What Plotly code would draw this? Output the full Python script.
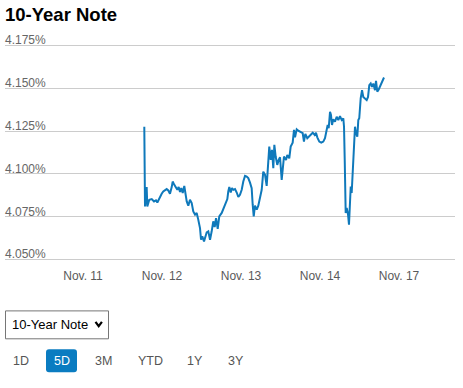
import plotly.graph_objects as go

# ---- data ----
day_labels = ["Nov. 11", "Nov. 12", "Nov. 13", "Nov. 14", "Nov. 17"]
day_pos = [0, 1, 2, 3, 4]

t = [0.776,0.785,0.806,0.814,0.839,0.870,0.899,0.924,0.941,0.966,0.996,1.016,1.038,1.059,1.080,1.101,
     1.123,1.135,1.156,1.177,1.194,1.211,1.228,1.244,1.262,1.282,1.295,1.313,1.333,1.354,1.376,1.396,
     1.418,1.439,1.459,1.481,1.494,1.510,1.532,1.548,1.566,1.586,1.608,1.629,1.649,1.667,1.684,1.705,
     1.725,1.756,1.785,1.810,1.827,1.839,1.852,1.870,1.886,1.903,1.924,1.946,1.966,1.987,2.009,2.029,
     2.051,2.072,2.092,2.114,2.135,2.148,2.161,2.177,2.199,2.219,2.241,2.262,2.282,2.304,2.325,2.346,
     2.358,2.376,2.392,2.409,2.422,2.439,2.459,2.477,2.494,2.515,2.544,2.570,2.586,2.611,2.629,2.654,
     2.671,2.684,2.705,2.725,2.756,2.781,2.797,2.814,2.839,2.865,2.890,2.908,2.933,2.949,2.966,2.991,
     3.016,3.042,3.063,3.085,3.097,3.110,3.127,3.139,3.152,3.168,3.190,3.211,3.232,3.253,3.275,3.295,
     3.304,3.313,3.316,3.325,3.338,3.354,3.367,3.380,3.389,3.401,3.414,3.430,3.443,3.456,3.472,3.485,
     3.497,3.515,3.532,3.548,3.570,3.591,3.608,3.624,3.642,3.658,3.675,3.696,3.709,3.725,3.743,3.759,
     3.781,3.810]

yields = [4.1275,4.0810,4.0923,4.0810,4.0849,4.0853,4.0839,4.0845,4.0833,4.0859,4.0884,4.0897,4.0903,
          4.0911,4.0903,4.0884,4.0923,4.0955,4.0936,4.0923,4.0907,4.0923,4.0895,4.0917,4.0888,4.0930,
          4.0888,4.0839,4.0814,4.0849,4.0830,4.0781,4.0762,4.0772,4.0733,4.0684,4.0616,4.0635,4.0606,
          4.0635,4.0659,4.0665,4.0616,4.0665,4.0723,4.0690,4.0742,4.0679,4.0752,4.0772,4.0801,4.0830,
          4.0853,4.0897,4.0923,4.0891,4.0917,4.0907,4.0911,4.0891,4.0865,4.0878,4.0907,4.0955,4.0988,
          4.0984,4.0975,4.0949,4.0917,4.0820,4.0752,4.0814,4.0791,4.0814,4.0859,4.0907,4.1013,4.0994,
          4.0930,4.1052,4.1159,4.1081,4.1140,4.1033,4.1169,4.1101,4.1052,4.1081,4.1097,4.0965,4.1101,
          4.1081,4.1110,4.1091,4.1159,4.1182,4.1256,4.1213,4.1260,4.1252,4.1246,4.1237,4.1188,4.1233,
          4.1208,4.1221,4.1227,4.1240,4.1227,4.1240,4.1213,4.1188,4.1182,4.1188,4.1208,4.1256,4.1285,
          4.1266,4.1362,4.1343,4.1285,4.1318,4.1304,4.1333,4.1314,4.1337,4.1314,4.1324,4.1275,4.1081,
          4.0849,4.0772,4.0801,4.0767,4.0703,4.0830,4.0926,4.0888,4.1042,4.1140,4.1275,4.1237,4.1217,
          4.1314,4.1324,4.1440,4.1488,4.1449,4.1440,4.1430,4.1449,4.1517,4.1527,4.1508,4.1527,4.1488,
          4.1542,4.1479,4.1492,4.1508,4.1527,4.1562]

y_ticks = [4.050, 4.075, 4.100, 4.125, 4.150, 4.175]
y_tick_labels = ["4.050%", "4.075%", "4.100%", "4.125%", "4.150%", "4.175%"]
range_buttons = ["1D", "5D", "3M", "YTD", "1Y", "3Y"]
selected_button = "5D"
dropdown_label = "10-Year Note"
title_text = "10-Year Note"

# ---- layout geometry (pixels) ----
W, H = 463, 388
Y_LO, Y_HI = 4.048, 4.195
PX_PER_UNIT = 1720.0
L, R = 5, 455
B = 260 + (4.05 - Y_LO) * PX_PER_UNIT
T = B - (Y_HI - Y_LO) * PX_PER_UNIT

def px(x):
    return (x - L) / (R - L)

def py(y):
    return (B - y) / (B - T)

FONT = "Liberation Sans, Arial, sans-serif"
BLUE = "#0a7cc1"

fig = go.Figure()
fig.add_trace(go.Scatter(x=t, y=yields, mode="lines",
                         line=dict(color="#0f79bb", width=2), hoverinfo="skip"))

shapes = []
annotations = []

# dropdown box
shapes.append(dict(type="rect", xref="paper", yref="paper",
                   x0=px(5.5), x1=px(108.5), y0=py(339.5), y1=py(311.5),
                   line=dict(color="#767676", width=1), fillcolor="white"))
annotations.append(dict(text=dropdown_label, xref="paper", yref="paper",
                        x=px(10), y=py(325.5), xanchor="left", yanchor="middle",
                        showarrow=False, font=dict(family=FONT, size=13, color="#000000")))
shapes.append(dict(type="path", xref="paper", yref="paper",
                   path=f"M {px(95.5)} {py(322.5)} L {px(98.7)} {py(326.8)} L {px(101.9)} {py(322.5)}",
                   line=dict(color="#000000", width=2.2)))

# range buttons
btn_centers = [21, 61.5, 103, 150, 195, 236]
for lab, cx in zip(range_buttons, btn_centers):
    sel = lab == selected_button
    if sel:
        x0, x1, y0, y1, r = 46, 77, 350, 373, 3
        path = (f"M {px(x0+r)} {py(y0)} L {px(x1-r)} {py(y0)} Q {px(x1)} {py(y0)} {px(x1)} {py(y0+r)} "
                f"L {px(x1)} {py(y1-r)} Q {px(x1)} {py(y1)} {px(x1-r)} {py(y1)} "
                f"L {px(x0+r)} {py(y1)} Q {px(x0)} {py(y1)} {px(x0)} {py(y1-r)} "
                f"L {px(x0)} {py(y0+r)} Q {px(x0)} {py(y0)} {px(x0+r)} {py(y0)} Z")
        shapes.append(dict(type="path", xref="paper", yref="paper", path=path,
                           fillcolor=BLUE, line=dict(width=0)))
    annotations.append(dict(text=lab, xref="paper", yref="paper", x=px(cx), y=py(362),
                            xanchor="center", yanchor="middle", showarrow=False,
                            font=dict(family=FONT, size=12.5,
                                      color="#ffffff" if sel else "#555555")))

fig.update_layout(
    width=W, height=H,
    margin=dict(l=L, r=W - R, t=T, b=H - B, pad=0),
    paper_bgcolor="white", plot_bgcolor="white",
    showlegend=False,
    title=dict(text=title_text, xref="container", yref="container",
               x=5 / W, y=1 - 15 / H, xanchor="left", yanchor="middle",
               font=dict(family=FONT, size=18.5, color="#000000", weight="bold")),
    xaxis=dict(range=[(L - 83) / 79, (R - 83) / 79], tickvals=day_pos, ticktext=day_labels,
               showgrid=False, zeroline=False, showline=False, ticks="", automargin=False,
               ticklabelstandoff=4,
               tickfont=dict(family=FONT, size=12, color="#5a5a5a"), fixedrange=True),
    yaxis=dict(range=[Y_LO, Y_HI], tickvals=y_ticks, ticktext=y_tick_labels,
               ticklabelposition="inside top", ticklabelshift=3, ticklabelstandoff=-3,
               showgrid=True, gridcolor="#cccccc", gridwidth=1,
               zeroline=False, showline=False, ticks="", automargin=False,
               tickfont=dict(family=FONT, size=12, color="#666666"), fixedrange=True),
    shapes=shapes,
    annotations=annotations,
)

fig.write_html("out.html", post_script="document.body.style.margin='0';",
               config={"displayModeBar": False})
